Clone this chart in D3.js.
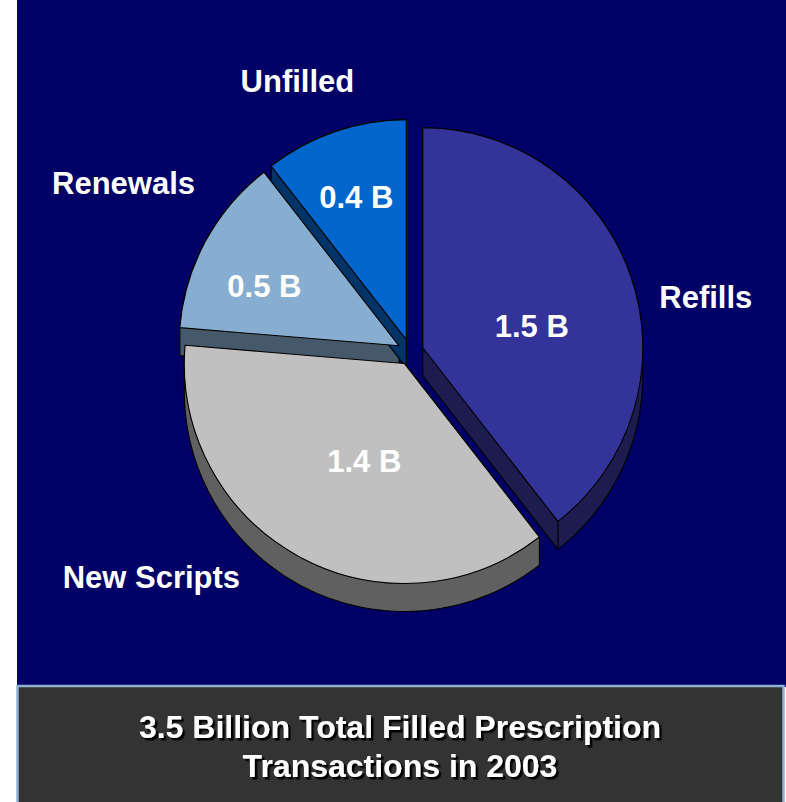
<!DOCTYPE html>
<html>
<head>
<meta charset="utf-8">
<script src="https://cdn.jsdelivr.net/npm/d3@7"></script>
<style>
  body { margin: 0; background: #ffffff; }
  svg { display: block; }
  text { font-family: "Liberation Sans", Arial, sans-serif; font-weight: bold; }
</style>
</head>
<body>
<div id="chart"></div>
<script>
// 3D PIE - PRESCRIPTION TRANSACTIONS 2003

// data
const categories = ["Refills", "New Scripts", "Renewals", "Unfilled"]
const values = [1.5, 1.4, 0.5, 0.4]
const valueLabels = ["1.5 B", "1.4 B", "0.5 B", "0.4 B"]
const titleLines = ["3.5 Billion Total Filled Prescription", "Transactions in 2003"]

// styles
const topColors = ["#333399", "#c0c0c0", "#87aed0", "#0066cc"]
const sideColors = ["#1c1c4e", "#606060", "#46596a", "#003366"]

// layout
const WIDTH = 786
const HEIGHT = 802
const CX = 410.5, CY = 352
const R = 220
const DEPTH = 28
const EXPLODE = 13

// label placement (degrees clockwise from 12 o'clock, radius as fraction of R) around each slice's centre
const LABEL_LAYOUT = {
  "Refills":     { inner: [78.8, 0.505], outer: [79.8, 1.307] },
  "New Scripts": { inner: [202.3, 0.48], outer: [229.9, 1.503] },
  "Renewals":    { inner: [294, 0.67],   outer: [300.6, 1.455] },
  "Unfilled":    { inner: [340.7, 0.687], outer: [337.2, 1.277] }
}

const svg = d3.select("#chart").append("svg")
  .attr("width", WIDTH)
  .attr("height", HEIGHT)

// shadow for the title
const defs = svg.append("defs")
defs.append("filter")
  .attr("id", "shadow")
  .attr("x", "-5%").attr("y", "-20%")
  .attr("width", "110%").attr("height", "140%")
  .append("feDropShadow")
  .attr("dx", 2.5).attr("dy", 2.5)
  .attr("stdDeviation", 0.4)
  .attr("flood-color", "#000000")
  .attr("flood-opacity", 1)

// navy panel
svg.append("rect")
  .attr("x", 17).attr("y", 0)
  .attr("width", WIDTH - 17).attr("height", 687)
  .attr("fill", "#000066")

// pie
const pie = d3.pie().sort(null).value(d => d)
const arcs = pie(values)

const arc = d3.arc().innerRadius(0).outerRadius(R)

const polar = (a, r) => [r * Math.sin(a), -r * Math.cos(a)]
const rad = deg => deg * Math.PI / 180

const slices = arcs.map((d, i) => {
  const mid = (d.startAngle + d.endAngle) / 2
  const [ox, oy] = polar(mid, EXPLODE)
  return { d, i, name: categories[i], x: CX + ox, y: CY + oy }
})

const gPie = svg.append("g")

// sides first (extrusion = hull of top face and the face shifted down)
slices.forEach(s => {
  const a0 = s.d.startAngle, a1 = s.d.endAngle
  const pts = [[0, 0], [0, DEPTH]]
  const n = 80
  for (let k = 0; k <= n; k++) {
    const a = a0 + (a1 - a0) * k / n
    const [px, py] = polar(a, R)
    pts.push([px, py], [px, py + DEPTH])
  }
  const hull = d3.polygonHull(pts)
  const g = gPie.append("g").attr("transform", `translate(${s.x}, ${s.y})`)
  g.append("path")
    .attr("d", "M" + hull.join("L") + "Z")
    .attr("fill", sideColors[s.i])
    .attr("stroke", "#000000")
    .attr("stroke-width", 1.1)
    .attr("stroke-linejoin", "round")

  // vertical edges where two visible side faces meet
  const edges = []
  if (Math.cos(a0) < 0 && Math.sin(a0) < 0) edges.push(polar(a0, R))
  if (Math.cos(a1) < 0 && Math.sin(a1) > 1e-6) edges.push(polar(a1, R))
  if (Math.sin(a0) < -1e-6 && Math.sin(a1) > 1e-6) edges.push([0, 0])
  edges.forEach(p => {
    g.append("line")
      .attr("x1", p[0]).attr("y1", p[1])
      .attr("x2", p[0]).attr("y2", p[1] + DEPTH)
      .attr("stroke", "#000000")
      .attr("stroke-width", 1.1)
  })
})

// top faces
slices.forEach(s => {
  gPie.append("path")
    .attr("transform", `translate(${s.x}, ${s.y})`)
    .attr("d", arc(s.d))
    .attr("fill", topColors[s.i])
    .attr("stroke", "#000000")
    .attr("stroke-width", 1.1)
    .attr("stroke-linejoin", "round")
})

// value labels and category labels
slices.forEach(s => {
  const lay = LABEL_LAYOUT[s.name]
  const [ix, iy] = polar(rad(lay.inner[0]), lay.inner[1] * R)
  gPie.append("text")
    .attr("x", s.x + ix)
    .attr("y", s.y + iy)
    .attr("dy", "0.36em")
    .attr("text-anchor", "middle")
    .attr("font-size", "31px")
    .attr("fill", "#ffffff")
    .text(valueLabels[s.i])

  const [tx, ty] = polar(rad(lay.outer[0]), lay.outer[1] * R)
  gPie.append("text")
    .attr("x", s.x + tx)
    .attr("y", s.y + ty)
    .attr("dy", "0.36em")
    .attr("text-anchor", "middle")
    .attr("font-size", "31px")
    .attr("fill", "#ffffff")
    .text(s.name)
})

// title box
svg.append("rect")
  .attr("x", 17.5).attr("y", 686)
  .attr("width", 766).attr("height", 130)
  .attr("fill", "#333333")
  .attr("stroke", "#8fb1d3")
  .attr("stroke-width", 2.5)

svg.append("g")
  .selectAll("text")
  .data(titleLines)
  .join("text")
  .attr("x", 400)
  .attr("y", (d, i) => 738 + i * 39)
  .attr("text-anchor", "middle")
  .attr("font-size", "32px")
  .attr("fill", "#ffffff")
  .attr("filter", "url(#shadow)")
  .text(d => d)
</script>
</body>
</html>
